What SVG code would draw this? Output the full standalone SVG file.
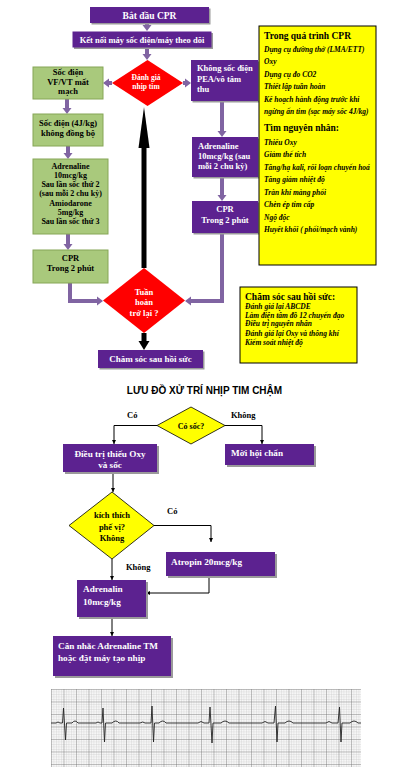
<svg xmlns="http://www.w3.org/2000/svg" width="412" height="783" viewBox="0 0 412 783">
<style>
text{font-family:"Liberation Serif","Times New Roman",serif;font-weight:bold}
.w{fill:#fff}
.k{fill:#000}
.pb{fill:#5c2290}
.sh{fill:#9a9a9a}
.gb{fill:#a9c97c;stroke:#86a657;stroke-width:1}
.pa{fill:none;stroke:#8064a2;stroke-width:4}
.bl{fill:none;stroke:#000;stroke-width:1}
.it{font-style:italic;font-size:7.5px}
.c{text-anchor:middle}
.yb{fill:#ffff00;stroke:#000;stroke-width:1}
</style>
<defs>
<marker id="pa" markerUnits="userSpaceOnUse" markerWidth="10" markerHeight="12" refX="0" refY="5" orient="auto"><path d="M0,0.5 L6,5 L0,9.5 Z" fill="#8064a2"/></marker>
<marker id="ba" markerUnits="userSpaceOnUse" markerWidth="5" markerHeight="5" refX="4" refY="2" orient="auto"><path d="M0,0 L4,2 L0,4 Z" fill="#000"/></marker>
<pattern id="minor" patternUnits="userSpaceOnUse" x="51" y="689" width="2.5" height="2.5"><path d="M0,0 H2.5 M0,0 V2.5" stroke="#c0c0c0" stroke-width="0.5" fill="none"/></pattern>
<pattern id="major" patternUnits="userSpaceOnUse" x="51" y="689" width="12.5" height="12.5"><path d="M0,0 H12.5 M0,0 V12.5" stroke="#6e6e6e" stroke-width="0.7" fill="none"/></pattern>
</defs>
<rect width="412" height="783" fill="#fff"/>

<g id="connectors">
<path class="pa" d="M147,23 V25" marker-end="url(#pa)"/>
<path class="pa" d="M147,48 V54" marker-end="url(#pa)"/>
<path class="pa" d="M112,83 H109" marker-end="url(#pa)"/>
<path class="pa" d="M183,83 H185" marker-end="url(#pa)"/>
<path class="pa" d="M67,99 V108" marker-end="url(#pa)"/>
<path class="pa" d="M68,146 V153" marker-end="url(#pa)"/>
<path class="pa" d="M68,234 V244" marker-end="url(#pa)"/>
<path class="pa" d="M70,283 V301 H97" marker-end="url(#pa)"/>
<path class="pa" d="M222,101 V131" marker-end="url(#pa)"/>
<path class="pa" d="M222,177 V195" marker-end="url(#pa)"/>
<path class="pa" d="M222,233 V301 H191" marker-end="url(#pa)"/>
<line x1="144" y1="268" x2="144" y2="146" stroke="#000" stroke-width="5"/>
<polygon points="144,107 149.5,148 138.5,148" fill="#000"/>
<line x1="144" y1="333" x2="144" y2="342" stroke="#000" stroke-width="5"/>
<polygon points="138.5,341 149.5,341 144,350" fill="#000"/>
<path class="bl" d="M157,425.5 H114 V444" marker-end="url(#ba)"/>
<path class="bl" d="M225,425.5 H262 V444" marker-end="url(#ba)"/>
<path class="bl" d="M113,472 V492" marker-end="url(#ba)"/>
<path class="bl" d="M154,525.5 H211 V542" marker-end="url(#ba)"/>
<path class="bl" d="M112,559 V580" marker-end="url(#ba)"/>
<path class="bl" d="M209,576 V593 H146" marker-end="url(#ba)"/>
<path class="bl" d="M112,617 V636" marker-end="url(#ba)"/>
</g>

<g id="start">
<rect class="sh" x="91.5" y="8.5" width="119" height="16"/>
<rect class="pb" x="90" y="7" width="119" height="16"/>
<text class="w c" x="149.5" y="18.5" font-size="9.5">Bắt đầu CPR</text>
</g>
<g id="connect">
<rect class="sh" x="74" y="33" width="139" height="16"/>
<rect class="pb" x="72.5" y="31.5" width="139" height="16"/>
<text class="w c" x="142" y="43" font-size="8.5">Kết nối máy sốc điện/máy theo dõi</text>
</g>
<g id="assess">
<polygon points="147.5,60 183,83 147.5,106 112,83" fill="#f00"/>
<text class="w c" x="146" y="79.5" font-size="7.5" font-weight="normal">Đánh giá</text>
<text class="w c" x="146" y="88.5" font-size="7.5" font-weight="normal">nhịp tim</text>
</g>
<g id="shockable">
<rect class="gb" x="33" y="67" width="70" height="32"/>
<text class="k c" x="68" y="75" font-size="8.5">Sốc điện</text>
<text class="k c" x="68" y="84.5" font-size="8.5">VF/VT mất</text>
<text class="k c" x="68" y="94" font-size="8.5">mạch</text>
</g>
<g id="shock">
<rect class="gb" x="33" y="114" width="70" height="32"/>
<text class="k c" x="68" y="126" font-size="8.5">Sốc điện (4J/kg)</text>
<text class="k c" x="68" y="136" font-size="8.5">không đồng bộ</text>
</g>
<g id="drugs-vf">
<rect class="gb" x="33" y="159" width="75" height="75"/>
<text class="k c" x="70.5" y="169" font-size="8">Adrenaline</text>
<text class="k c" x="70.5" y="178" font-size="8">10mcg/kg</text>
<text class="k c" x="70.5" y="187" font-size="8">Sau lần sốc thứ 2</text>
<text class="k c" x="70.5" y="196" font-size="8">(sau mỗi 2 chu kỳ)</text>
<text class="k c" x="70.5" y="206" font-size="8">Amiodarone</text>
<text class="k c" x="70.5" y="215" font-size="8">5mg/kg</text>
<text class="k c" x="70.5" y="224" font-size="8">Sau lần sốc thứ 3</text>
</g>
<g id="cpr-vf">
<rect class="gb" x="33" y="250" width="75" height="33"/>
<text class="k c" x="70.5" y="260.5" font-size="8.5">CPR</text>
<text class="k c" x="70.5" y="271" font-size="8.5">Trong 2 phút</text>
</g>
<g id="nonshockable">
<rect class="sh" x="192.5" y="61.5" width="67" height="41"/>
<rect class="pb" x="191" y="60" width="67" height="41"/>
<text class="w" x="197" y="71" font-size="8.5">Không sốc điện</text>
<text class="w" x="197" y="81.5" font-size="8.5">PEA/vô tâm</text>
<text class="w" x="197" y="91.5" font-size="8.5">thu</text>
</g>
<g id="adrenaline-pea">
<rect class="sh" x="193.5" y="138.5" width="66" height="40"/>
<rect class="pb" x="192" y="137" width="66" height="40"/>
<text class="w" x="198" y="149" font-size="8.5">Adrenaline</text>
<text class="w" x="198" y="159" font-size="8.5">10mcg/kg (sau</text>
<text class="w" x="198" y="169" font-size="8.5">mỗi 2 chu kỳ)</text>
</g>
<g id="cpr-pea">
<rect class="sh" x="193.5" y="202.5" width="66" height="32"/>
<rect class="pb" x="192" y="201" width="66" height="32"/>
<text class="w c" x="225" y="212" font-size="8.5">CPR</text>
<text class="w c" x="225" y="222.5" font-size="8.5">Trong 2 phút</text>
</g>
<g id="rosc">
<polygon points="144,268 185,300.5 144,333 103,300.5" fill="#f00"/>
<text class="w c" x="144" y="294.5" font-size="8.5" font-weight="normal">Tuần</text>
<text class="w c" x="144" y="305" font-size="8.5" font-weight="normal">hoàn</text>
<text class="w c" x="144" y="315.5" font-size="8.5" font-weight="normal">trở lại ?</text>
</g>
<g id="post-care">
<rect class="sh" x="99.5" y="351.5" width="105" height="18"/>
<rect class="pb" x="98" y="350" width="105" height="18"/>
<text class="w c" x="150.5" y="362" font-size="9">Chăm sóc sau hồi sức</text>
</g>
<g id="during-cpr">
<rect class="yb" x="259" y="26" width="117" height="239"/>
<text class="k" x="264" y="38.5" font-size="9.5">Trong quá trình CPR</text>
<text class="k it" x="264" y="51.5">Dụng cụ đường thở (LMA/ETT)</text>
<text class="k it" x="264" y="64">Oxy</text>
<text class="k it" x="264" y="76.5">Dụng cụ đo CO2</text>
<text class="k it" x="264" y="89">Thiết lập tuần hoàn</text>
<text class="k it" x="264" y="101.5">Kế hoạch hành động trước khi</text>
<text class="k it" x="264" y="114">ngừng ấn tim (sạc máy sốc  4J/kg)</text>
<text class="k" x="264" y="130.5" font-size="9.5">Tìm nguyên nhân:</text>
<text class="k it" x="264" y="144.5">Thiếu Oxy</text>
<text class="k it" x="264" y="157">Giảm thể tích</text>
<text class="k it" x="264" y="169.5">Tăng/hạ kali, rối loạn chuyển hoá</text>
<text class="k it" x="264" y="182">Tăng giảm nhiệt độ</text>
<text class="k it" x="264" y="194.5">Tràn khí màng phổi</text>
<text class="k it" x="264" y="207">Chèn ép tim cấp</text>
<text class="k it" x="264" y="219.5">Ngộ độc</text>
<text class="k it" x="264" y="232">Huyết khối ( phổi/mạch vành)</text>
</g>
<g id="post-care-list">
<rect class="yb" x="240" y="287" width="117" height="76"/>
<text class="k" x="245" y="299.5" font-size="9.5">Chăm sóc sau hồi sức:</text>
<text class="k" x="245" y="308.5" font-size="7.5" font-style="italic">Đánh giá lại ABCDE</text>
<text class="k" x="245" y="317.5" font-size="7.5" font-style="italic">Làm điện tâm đồ 12 chuyển đạo</text>
<text class="k" x="245" y="326" font-size="7.5" font-style="italic">Điều trị nguyên nhân</text>
<text class="k" x="245" y="335.5" font-size="7.5" font-style="italic">Đánh giá lại Oxy và thông khí</text>
<text class="k" x="245" y="344.5" font-size="7.5" font-style="italic">Kiểm soát nhiệt độ</text>
</g>

<text class="k c" x="204.5" y="393.5" font-size="10" style="font-family:'Liberation Sans',Arial,sans-serif">LƯU ĐỒ XỬ TRÍ NHỊP TIM CHẬM</text>

<g id="shock-q">
<polygon points="191,407 225,425.5 191,444 157,425.5" fill="#ffff00" stroke="#000" stroke-width="0.8"/>
<text class="k c" x="191" y="428.5" font-size="8">Có sốc?</text>
</g>
<text class="k" x="127" y="418" font-size="8.5">Có</text>
<text class="k" x="231" y="418" font-size="8.5">Không</text>
<g id="treat-hypoxia">
<rect class="sh" x="65" y="446" width="94" height="28"/>
<rect class="pb" x="63" y="444" width="94" height="28"/>
<text class="w c" x="110" y="456.5" font-size="9.2">Điều trị thiếu Oxy</text>
<text class="w c" x="110" y="467.5" font-size="9.2">và sốc</text>
</g>
<g id="consult">
<rect class="sh" x="227" y="446" width="89" height="21"/>
<rect class="pb" x="225" y="444" width="89" height="21"/>
<text class="w" x="231" y="455.5" font-size="9.2">Mời hội chẩn</text>
</g>
<g id="vagal-q">
<polygon points="112,492 154,525.5 112,559 69,525.5" fill="#ffff00" stroke="#000" stroke-width="0.8"/>
<text class="k c" x="112" y="518" font-size="8.5">kích thích</text>
<text class="k c" x="112" y="529.5" font-size="8.5">phế vị?</text>
<text class="k c" x="112" y="541" font-size="8.5">Không</text>
</g>
<text class="k" x="167" y="514" font-size="8.5">Có</text>
<text class="k" x="126" y="570" font-size="8.5">Không</text>
<g id="atropin">
<rect class="sh" x="168" y="554" width="109" height="24"/>
<rect class="pb" x="166" y="552" width="109" height="24"/>
<text class="w" x="171" y="564.5" font-size="9.2">Atropin 20mcg/kg</text>
</g>
<g id="adrenalin">
<rect class="sh" x="79" y="582" width="69" height="37"/>
<rect class="pb" x="77" y="580" width="69" height="37"/>
<text class="w" x="83" y="592" font-size="9.2">Adrenalin</text>
<text class="w" x="83" y="605" font-size="9.2">10mcg/kg</text>
</g>
<g id="consider">
<rect class="sh" x="55" y="638" width="118" height="40"/>
<rect class="pb" x="53" y="636" width="118" height="40"/>
<text class="w" x="58" y="648.5" font-size="9.2">Cân nhắc Adrenaline TM</text>
<text class="w" x="58" y="661" font-size="9.2">hoặc đặt máy tạo nhịp</text>
</g>

<g id="ecg">
<rect x="51" y="689" width="310" height="78" fill="#f6f6f6"/>
<rect x="51" y="689" width="310" height="78" fill="url(#minor)"/>
<rect x="51" y="689" width="310" height="78" fill="url(#major)"/>
<path fill="none" stroke="#222" stroke-width="0.9" d="M51,723 L56,723 Q58,721 60,723 L62.5,723 L63.5,708 L65.5,740 L66.5,723 L72,723 Q75,719 78,723 L96,723 Q98,721 100,723 L102,723 L103,708 L104.5,742 L105.5,723 L112,723 Q116,719 119,723 L140,723 Q143,721 145,723 L151,723 L152,706 L153.5,742 L154.5,723 L159,723 Q163,719 166,723 L198,723 Q201,720 204,723 L209,723 L210,707 L212,743 L213,723 L221,723 Q225,719 229,723 L262,723 Q265,720 268,723 L274,723 L275.5,706 L277,742 L278,723 L285,723 Q289,719 293,723 L326,723 Q329,720 332,723 L338,723 L339.5,707 L341,742 L342,723 L350,723 Q354,719 358,723 L361,723"/>
</g>
</svg>
